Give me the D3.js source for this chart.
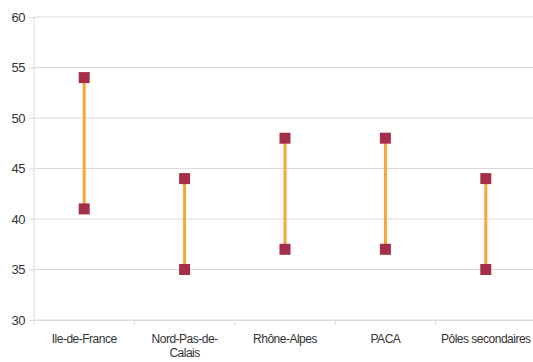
<!DOCTYPE html>
<html><head><meta charset="utf-8">
<script src="https://cdn.jsdelivr.net/npm/d3@7"></script>
<style>body{margin:0;background:#fff}svg{display:block}</style>
</head><body>
<script>
// Range per region: low and high values
const categories = ["Ile-de-France", "Nord-Pas-de-Calais", "Rhône-Alpes", "PACA", "Pôles secondaires"];
const lowValues = [41, 35, 37, 37, 35];
const highValues = [54, 44, 48, 48, 44];
const yTicks = [30, 35, 40, 45, 50, 55, 60];

const W = 533, H = 362;
const margin = {top: 17, right: -3, bottom: 42, left: 34};
const svg = d3.select("body").append("svg").attr("width", W).attr("height", H);
const g = svg.append("g").attr("transform", `translate(${margin.left},${margin.top})`);
const iw = W - margin.left - margin.right, ih = H - margin.top - margin.bottom;

const x = d3.scaleBand().domain(categories).range([0, iw]);
const y = d3.scaleLinear().domain([30, 60]).range([ih, 0]);

// horizontal gridlines
g.append("g").selectAll("line").data(yTicks).join("line")
  .attr("x1", 0).attr("x2", iw)
  .attr("y1", d => y(d)).attr("y2", d => y(d))
  .attr("stroke", "#d9d9d9").attr("stroke-width", 1);

// y axis
const ya = g.append("g").call(d3.axisLeft(y).tickValues(yTicks).tickSize(5).tickPadding(4));
ya.select(".domain").attr("stroke", "#d9d9d9").attr("d", `M0,${ih}V0`);
ya.selectAll(".tick line").attr("stroke", "#d9d9d9");
ya.selectAll("text").attr("fill", "#333").style("font", "13px 'Liberation Sans', Arial, sans-serif")
  .style("letter-spacing", "-0.5px");

// x axis
const xa = g.append("g").attr("transform", `translate(0,${ih})`)
  .call(d3.axisBottom(x).tickSize(0).tickPadding(14));
xa.select(".domain").attr("stroke", "#d9d9d9");
xa.selectAll("text").attr("fill", "#333").style("font", "12px 'Liberation Sans', Arial, sans-serif")
  .style("letter-spacing", "-0.5px");
// category separators
xa.selectAll(".sep").data(categories).join("line").attr("class", "sep")
  .attr("x1", d => x(d) + x.bandwidth()).attr("x2", d => x(d) + x.bandwidth())
  .attr("y1", 0).attr("y2", 5).attr("stroke", "#d9d9d9");
xa.append("line").attr("x1", 0).attr("x2", 0).attr("y1", 0).attr("y2", 5).attr("stroke", "#d9d9d9");

// wrap long labels
xa.selectAll(".tick text").each(function(d) {
  if (d === "Nord-Pas-de-Calais") {
    const t = d3.select(this); t.text(null);
    t.append("tspan").attr("x", 0).attr("dy", "0.71em").text("Nord-Pas-de-");
    t.append("tspan").attr("x", 0).attr("dy", "1.2em").text("Calais");
    t.attr("dy", null);
  }
});

const cx = d => x(d) + x.bandwidth() / 2;

// range lines
g.append("g").selectAll("line").data(categories).join("line")
  .attr("x1", cx).attr("x2", cx)
  .attr("y1", (d, i) => y(lowValues[i])).attr("y2", (d, i) => y(highValues[i]))
  .attr("stroke", "#f5a833").attr("stroke-width", 3);

// markers
const s = 11;
const pts = categories.flatMap((c, i) => [{c, v: lowValues[i]}, {c, v: highValues[i]}]);
g.append("g").selectAll("rect").data(pts).join("rect")
  .attr("x", d => cx(d.c) - s / 2).attr("y", d => y(d.v) - s / 2)
  .attr("width", s).attr("height", s).attr("fill", "#a52f48");
</script>
</body></html>
